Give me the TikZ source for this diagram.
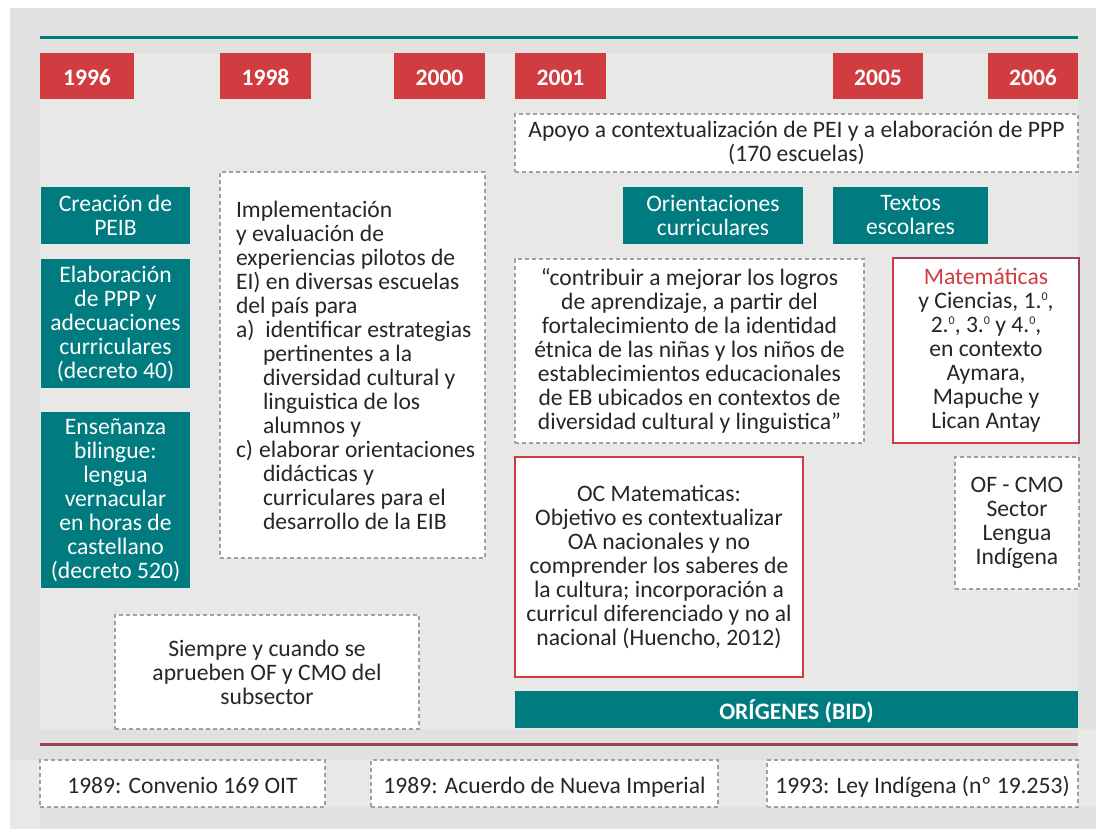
\documentclass[tikz,border=0pt]{standalone}
\usepackage{fontspec}
\setmainfont{Carlito}
\definecolor{tealc}{HTML}{007B7F}
\definecolor{yred}{HTML}{D03C3F}
\definecolor{maroon}{HTML}{9E4059}
\definecolor{bgdark}{HTML}{E1E1E0}
\definecolor{bglight}{HTML}{E8E9E7}
\definecolor{dashc}{HTML}{A0A0A0}
\definecolor{txt}{HTML}{262626}
\newcommand{\ordz}{\raisebox{8pt}{\fontsize{12}{12}\selectfont 0}}
\tikzset{
  base/.style={anchor=north west, inner sep=0pt, outer sep=0pt, align=center,
    font=\fontsize{23.6}{24}\selectfont, text=txt},
  oneline/.style={text height=22pt, text depth=2pt},
  yearbox/.style={base, oneline, fill=yred, text=white, font=\fontsize{23.6}{24}\selectfont\bfseries, minimum height=46pt},
  tealbox/.style={base, fill=tealc, text=white},
  dbox/.style={base, fill=white, draw=dashc, line width=1.2pt, dash pattern=on 4pt off 3pt},
  redbox/.style={base, fill=white, draw=yred, line width=2.6pt},
  rule/.style={line width=3pt}
}
\begin{document}
\begin{tikzpicture}[x=1pt,y=-1pt]
\useasboundingbox (0,0) rectangle (1096,829);
% background panels
\fill[white] (0,0) rectangle (1096,829);
\fill[bgdark] (10,8) rectangle (1096,829);
\fill[bglight] (40,53) rectangle (1078,729);
\fill[bglight] (10,760) rectangle (1096,807);
\fill[bglight] (10,807) rectangle (40,829);
\fill[bglight] (1078,729) rectangle (1096,760);
% rules
\coordinate (tl) at (40,38); \coordinate (tr) at (1078,38);
\coordinate (bl) at (40,744); \coordinate (br) at (1078,744);
\draw[rule, tealc] (tl) -- (tr);
\draw[rule, maroon] (bl) -- (br);
% years
\node[yearbox, minimum width=94pt] (y1996) at (40,53) {1996};
\node[yearbox, minimum width=91pt] (y1998) at (220,53) {1998};
\node[yearbox, minimum width=91pt] (y2000) at (394,53) {2000};
\node[yearbox, minimum width=91pt] (y2001) at (515,53) {2001};
\node[yearbox, minimum width=90pt] (y2005) at (833,53) {2005};
\node[yearbox, minimum width=90pt] (y2006) at (988,53) {2006};
% top dashed
\node[dbox, minimum width=563pt, minimum height=58pt] (apoyo) at (515,114)
  {Apoyo a contextualización de PEI y a elaboración de PPP\\(170 escuelas)};
% teal boxes left
\node[tealbox, minimum width=149pt, minimum height=57pt] (creacion) at (41,187)
  {Creación de\\PEIB};
\node[tealbox, minimum width=149pt, minimum height=129pt] (elab) at (41,259)
  {Elaboración\\de PPP y\\adecuaciones\\curriculares\\(decreto 40)};
\node[tealbox, minimum width=149pt, minimum height=176pt] (ense) at (41,412)
  {Enseñanza\\bilingue:\\lengua\\vernacular\\en horas de\\castellano\\(decreto 520)};
% implementation
\node[dbox, minimum width=265pt, minimum height=386pt] (impl) at (220,172) {};
\node[base, anchor=west, align=left] (impltext) at ([xshift=16pt]impl.west)
  {Implementación\\
   y evaluación de\\
   experiencias pilotos de\\
   EI) en diversas escuelas\\
   del país para\\
   a)\hspace{11pt}identificar estrategias\\
   \hspace*{27pt}pertinentes a la\\
   \hspace*{27pt}diversidad cultural y\\
   \hspace*{27pt}linguistica de los\\
   \hspace*{27pt}alumnos y\\
   c)\hspace{6pt}elaborar orientaciones\\
   \hspace*{27pt}didácticas y\\
   \hspace*{27pt}curriculares para el\\
   \hspace*{27pt}desarrollo de la EIB};
% teal boxes middle
\node[tealbox, minimum width=180pt, minimum height=57pt] (orient) at (623,187)
  {Orientaciones\\curriculares};
\node[tealbox, minimum width=155pt, minimum height=57pt] (textos) at (833,187)
  {Textos\\escolares};
% quote
\node[dbox, minimum width=349pt, minimum height=184pt] (contrib) at (515,259)
  {“contribuir a mejorar los logros\\
   de aprendizaje, a partir del\\
   fortalecimiento de la identidad\\
   étnica de las niñas y los niños de\\
   establecimientos educacionales\\
   de EB ubicados en contextos de\\
   diversidad cultural y linguistica”};
% matematicas
\node[redbox, minimum width=186pt, minimum height=185pt] (matem) at (893,258)
  {\textcolor{yred}{Matemáticas}\\
   y Ciencias, 1.\ordz,\\
   2.\ordz, 3.\ordz{} y 4.\ordz,\\
   en contexto\\
   Aymara,\\
   Mapuche y\\
   Lican Antay};
\draw[maroon, line width=2.6pt] (matem.north west) -- (matem.north east) -- (matem.south east);
% OF-CMO
\node[dbox, minimum width=124pt, minimum height=132pt] (ofcmo) at (955,457)
  {OF - CMO\\Sector\\Lengua\\Indígena};
% OC Matematicas
\node[redbox, minimum width=288pt, minimum height=220pt] (ocmat) at (515,457)
  {OC Matematicas:\\
   Objetivo es contextualizar\\
   OA nacionales y no\\
   comprender los saberes de\\
   la cultura; incorporación a\\
   curricul diferenciado y no al\\
   nacional (Huencho, 2012)};
% siempre
\node[dbox, minimum width=304pt, minimum height=114pt] (siempre) at (115,615)
  {Siempre y cuando se\\aprueben OF y CMO del\\subsector};
% origenes
\node[tealbox, oneline, font=\fontsize{23.6}{24}\selectfont\bfseries, minimum width=563pt, minimum height=37pt] (origenes) at (515,691)
  {ORÍGENES (BID)};
% bottom boxes
\node[dbox, oneline, minimum width=285pt, minimum height=47pt] (b1) at (40,760) {1989: Convenio 169 OIT};
\node[dbox, oneline, minimum width=347pt, minimum height=47pt] (b2) at (371,760) {1989: Acuerdo de Nueva Imperial};
\node[dbox, oneline, minimum width=311pt, minimum height=47pt] (b3) at (767,760) {1993: Ley Indígena (nº 19.253)};
\end{tikzpicture}
\end{document}
